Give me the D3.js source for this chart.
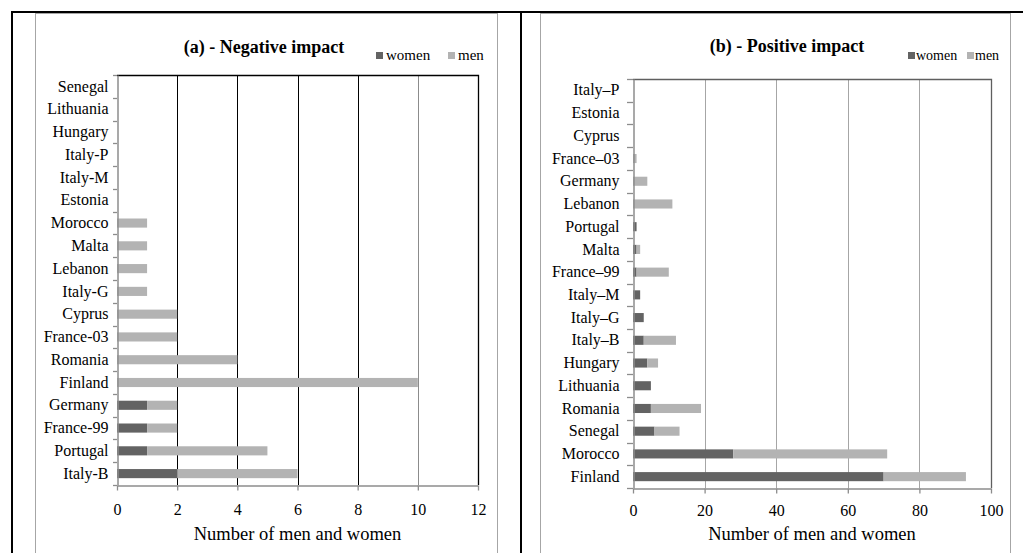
<!DOCTYPE html>
<html>
<head>
<meta charset="utf-8">
<script src="https://cdn.jsdelivr.net/npm/d3@7/dist/d3.min.js"></script>
<style>
  html, body { margin: 0; padding: 0; background: #fff; }
  svg, svg text { font-family: "Liberation Serif", "Tinos", "Times New Roman", Times, "DejaVu Serif", serif !important; }
</style>
</head>
<body>
<svg id="chart" width="1023" height="553"></svg>
<script>
// Panel (a): negative impact, by country
const negCategories = ["Senegal", "Lithuania", "Hungary", "Italy-P", "Italy-M", "Estonia",
  "Morocco", "Malta", "Lebanon", "Italy-G", "Cyprus", "France-03", "Romania", "Finland",
  "Germany", "France-99", "Portugal", "Italy-B"];
const negWomen = [0, 0, 0, 0, 0, 0, 0, 0, 0, 0, 0, 0, 0, 0, 1, 1, 1, 2];
const negMen   = [0, 0, 0, 0, 0, 0, 1, 1, 1, 1, 2, 2, 4, 10, 1, 1, 4, 4];
const negTicks = [0, 2, 4, 6, 8, 10, 12];

// Panel (b): positive impact, by country
const posCategories = ["Italy–P", "Estonia", "Cyprus", "France–03", "Germany", "Lebanon",
  "Portugal", "Malta", "France–99", "Italy–M", "Italy–G", "Italy–B", "Hungary", "Lithuania",
  "Romania", "Senegal", "Morocco", "Finland"];
const posWomen = [0, 0, 0, 0, 0, 0, 1, 1, 1, 2, 3, 3, 4, 5, 5, 6, 28, 70];
const posMen   = [0, 0, 0, 1, 4, 11, 0, 1, 9, 0, 0, 9, 3, 0, 14, 7, 43, 23];
const posTicks = [0, 20, 40, 60, 80, 100];

const seriesKeys = ["women", "men"];
const xTitle = "Number of men and women";

const colors = { women: "#636363", men: "#b3b3b3" };

const svg = d3.select("#chart");

// Table-style frame around the two panels
const frame = svg.append("g").attr("stroke", "#000").attr("stroke-width", 2);
frame.append("line").attr("x1", 11).attr("x2", 1023).attr("y1", 12).attr("y2", 12);
frame.append("line").attr("x1", 12).attr("x2", 12).attr("y1", 11).attr("y2", 553);
frame.append("line").attr("x1", 521).attr("x2", 521).attr("y1", 11).attr("y2", 553);

function drawPanel(cfg) {
  const g = svg.append("g");

  // chart area border
  g.append("rect")
    .attr("x", cfg.box[0] + 0.5).attr("y", cfg.box[1] + 0.5)
    .attr("width", cfg.box[2] - cfg.box[0]).attr("height", cfg.box[3] - cfg.box[1])
    .attr("fill", "#fff").attr("stroke", "#a6a6a6").attr("stroke-width", 1);

  const rows = cfg.categories.map((c, i) => ({ category: c, women: cfg.women[i], men: cfg.men[i] }));
  const stacked = d3.stack().keys(seriesKeys)(rows);

  const x = d3.scaleLinear().domain([cfg.ticks[0], cfg.ticks[cfg.ticks.length - 1]])
    .range([cfg.plot.left, cfg.plot.right]);
  const y = d3.scaleBand().domain(cfg.categories)
    .range([cfg.plot.top, cfg.plot.bottom])
    .paddingInner(0.6).paddingOuter(0.3);

  // vertical gridlines
  g.append("g").selectAll("line")
    .data(cfg.ticks.slice(1, -1))
    .join("line")
    .attr("x1", d => Math.round(x(d)) + 0.5).attr("x2", d => Math.round(x(d)) + 0.5)
    .attr("y1", cfg.plot.top).attr("y2", cfg.plot.bottom)
    .attr("stroke", d => cfg.gridColor(d)).attr("stroke-width", 1);

  // top and right borders of the plot area
  const right = Math.round(x(cfg.ticks[cfg.ticks.length - 1])) + 0.5;
  g.append("path")
    .attr("d", `M${cfg.plot.left},${cfg.plot.top + 0.5}H${right}V${cfg.plot.bottom}`)
    .attr("fill", "none").attr("stroke", cfg.borderColor).attr("stroke-width", 1.3);

  // stacked bars
  g.append("g").selectAll("g")
    .data(stacked)
    .join("g")
    .attr("fill", d => colors[d.key])
    .selectAll("rect")
    .data(d => d)
    .join("rect")
    .attr("x", d => x(d[0]))
    .attr("y", d => y(d.data.category))
    .attr("width", d => x(d[1]) - x(d[0]))
    .attr("height", y.bandwidth());

  // category axis: labels, plus ticks on category boundaries
  const yAxis = g.append("g")
    .attr("transform", `translate(${cfg.plot.left + 0.5},0)`)
    .call(d3.axisLeft(y).tickSize(0).tickPadding(cfg.labelPad));
  yAxis.attr("font-family", null);
  yAxis.select(".domain").attr("stroke", "#8c8c8c").attr("stroke-width", 1.5);
  yAxis.selectAll("text").attr("font-size", 16).attr("fill", "#000");

  const bounds = d3.range(cfg.categories.length + 1).map(i => cfg.plot.top + i * y.step());
  g.append("g").selectAll("line")
    .data(bounds)
    .join("line")
    .attr("x1", cfg.plot.left - cfg.yTick).attr("x2", cfg.plot.left)
    .attr("y1", d => Math.round(d) + 0.5).attr("y2", d => Math.round(d) + 0.5)
    .attr("stroke", "#8c8c8c").attr("stroke-width", 1.3);

  // value axis
  const xAxis = g.append("g")
    .attr("transform", `translate(0,${cfg.plot.bottom + 0.5})`)
    .call(d3.axisBottom(x).tickValues(cfg.ticks).tickSize(5).tickPadding(cfg.tickPad).tickSizeOuter(0));
  xAxis.attr("font-family", null);
  xAxis.select(".domain").attr("stroke", "#8c8c8c").attr("stroke-width", 1.5);
  xAxis.selectAll(".tick line").attr("stroke", "#8c8c8c").attr("stroke-width", 1.3);
  xAxis.selectAll("text").attr("font-size", 16).attr("fill", "#000");

  // axis title
  g.append("text")
    .attr("x", (cfg.plot.left + cfg.plot.right) / 2).attr("y", 540)
    .attr("text-anchor", "middle").attr("font-size", 18.5).attr("fill", "#000")
    .text(xTitle);

  // panel title
  g.append("text")
    .attr("x", cfg.titleX).attr("y", cfg.titleY)
    .attr("text-anchor", "middle").attr("font-size", 18).attr("font-weight", "bold")
    .attr("fill", "#000")
    .text(cfg.title);

  // legend
  const leg = g.append("g").selectAll("g")
    .data(seriesKeys)
    .join("g")
    .attr("transform", (d, i) => `translate(${cfg.legendX[i]},${cfg.legendY})`);
  leg.append("rect").attr("x", 0).attr("y", -8).attr("width", 7).attr("height", 7)
    .attr("fill", d => colors[d]);
  leg.append("text").attr("x", cfg.legendGap).attr("y", 0)
    .attr("font-size", cfg.legendFont).attr("fill", "#000")
    .text(d => d);
}

drawPanel({
  box: [35, 13, 497, 560],
  plot: { left: 117, right: 478, top: 75, bottom: 485 },
  categories: negCategories, women: negWomen, men: negMen, ticks: negTicks,
  gridColor: d => d === 10 ? "#8c8c8c" : "#000",
  borderColor: "#000",
  labelPad: 9, yTick: 4, tickPad: 13,
  title: "(a) - Negative impact", titleX: 264, titleY: 53,
  legendX: [376, 448], legendY: 60, legendGap: 10, legendFont: 15
});

drawPanel({
  box: [540, 13, 1010, 560],
  plot: { left: 633, right: 991, top: 79, bottom: 488 },
  categories: posCategories, women: posWomen, men: posMen, ticks: posTicks,
  gridColor: () => "#a6a6a6",
  borderColor: "#5f5f5f",
  labelPad: 14, yTick: 6, tickPad: 11,
  title: "(b) - Positive impact", titleX: 787, titleY: 52,
  legendX: [908, 967], legendY: 60, legendGap: 8, legendFont: 14
});
</script>
</body>
</html>
